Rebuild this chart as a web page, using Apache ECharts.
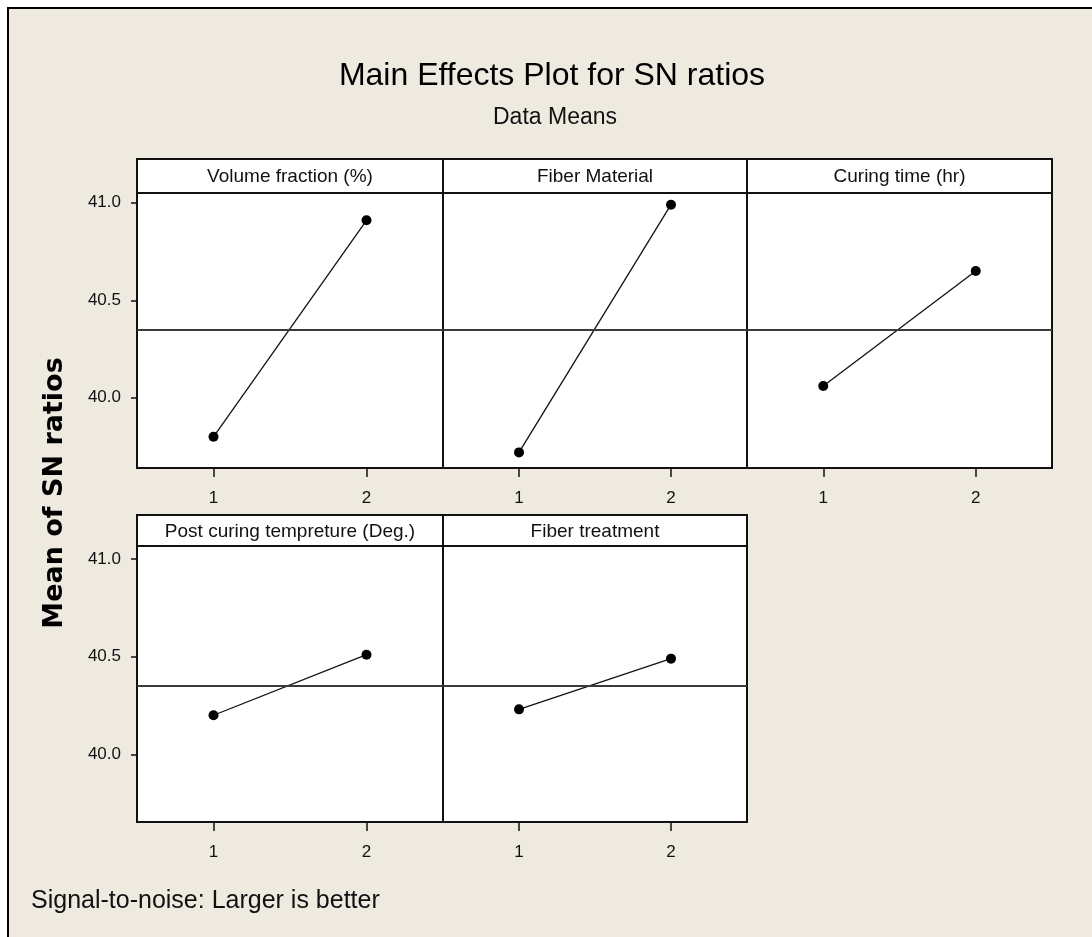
<!DOCTYPE html>
<html>
<head>
<meta charset="utf-8">
<title>Main Effects Plot for SN ratios</title>
<script src="https://cdn.jsdelivr.net/npm/echarts@6/dist/echarts.min.js"></script>
<style>
  html, body { margin: 0; padding: 0; background: #ffffff; }
  #chart { width: 1092px; height: 937px; }
</style>
</head>
<body>
<div id="chart"></div>
<script>
// ---- data: mean S/N ratio at each factor level ----
const levels = ['1', '2'];
const factorNames = [
  'Volume fraction (%)',
  'Fiber Material',
  'Curing time (hr)',
  'Post curing tempreture (Deg.)',
  'Fiber treatment'
];
const volumeFraction = [39.80, 40.91];
const fiberMaterial = [39.72, 40.99];
const curingTime = [40.06, 40.65];
const postCuringTemp = [40.20, 40.51];
const fiberTreatment = [40.23, 40.49];
const overallMean = 40.35;
const yTickValues = [40.0, 40.5, 41.0];

const factorValues = [volumeFraction, fiberMaterial, curingTime, postCuringTemp, fiberTreatment];

// ---- layout of the 3 + 2 panel matrix ----
const colLeft = [137, 443, 747];
const colWidth = [306, 304, 305];
const rowTop = [193, 546];
const rowHeight = [275, 276];
const headerTop = [159, 515];
const rowYRange = [[39.64, 41.05], [39.653, 41.067]];
const panelCell = [[0, 0], [0, 1], [0, 2], [1, 0], [1, 1]]; // [row, col]

const BG = '#EEEAE0';
const INK = '#111111';
const FONT = '"Liberation Sans", Arial, sans-serif';

const grids = [], xAxes = [], yAxes = [], series = [], graphics = [];

// white margin and black frame along the top and left edges
graphics.push(
  { type: 'rect', shape: { x: 0, y: 0, width: 1092, height: 7 }, style: { fill: '#ffffff' }, silent: true },
  { type: 'rect', shape: { x: 0, y: 0, width: 7, height: 937 }, style: { fill: '#ffffff' }, silent: true },
  { type: 'line', shape: { x1: 7, y1: 8, x2: 1092, y2: 8 }, style: { stroke: '#000', lineWidth: 2 }, silent: true },
  { type: 'line', shape: { x1: 8, y1: 7, x2: 8, y2: 937 }, style: { stroke: '#000', lineWidth: 2 }, silent: true }
);

factorValues.forEach((values, i) => {
  const [r, c] = panelCell[i];
  const isLeft = c === 0;
  grids.push({
    left: colLeft[c], top: rowTop[r], width: colWidth[c], height: rowHeight[r],
    show: true, backgroundColor: '#ffffff', borderColor: INK, borderWidth: 2,
    containLabel: false
  });
  xAxes.push({
    gridIndex: i, type: 'category', data: levels, boundaryGap: true,
    axisLine: { show: true, lineStyle: { color: INK, width: 2 } },
    axisTick: { show: true, alignWithLabel: true, length: 9, lineStyle: { color: INK, width: 1.5 } },
    axisLabel: { show: true, margin: 22, fontSize: 17, color: INK, fontFamily: FONT },
    splitLine: { show: false }
  });
  yAxes.push({
    gridIndex: i, type: 'value', min: rowYRange[r][0], max: rowYRange[r][1],
    axisLine: { show: true, lineStyle: { color: INK, width: 2 } },
    axisTick: { show: isLeft, length: 6, customValues: yTickValues, lineStyle: { color: INK, width: 1.5 } },
    axisLabel: {
      show: isLeft, customValues: yTickValues, margin: 16, fontSize: 17, color: INK, fontFamily: FONT,
      formatter: v => Number(v).toFixed(1)
    },
    splitLine: { show: false }
  });
  series.push({
    type: 'line', xAxisIndex: i, yAxisIndex: i, data: values,
    symbol: 'circle', symbolSize: 10, showSymbol: true,
    itemStyle: { color: '#000' },
    lineStyle: { color: '#111', width: 1.3 },
    animation: false, silent: true,
    markLine: {
      silent: true, symbol: 'none', animation: false,
      label: { show: false },
      lineStyle: { color: '#3a3a3a', width: 2, type: 'solid' },
      data: [{ yAxis: overallMean }]
    }
  });
  // panel header strip with the factor name
  graphics.push({
    type: 'rect',
    shape: { x: colLeft[c], y: headerTop[r], width: colWidth[c], height: rowTop[r] - headerTop[r] },
    style: { fill: '#ffffff', stroke: INK, lineWidth: 2 }, silent: true
  });
  graphics.push({
    type: 'text',
    x: colLeft[c] + colWidth[c] / 2, y: (headerTop[r] + rowTop[r]) / 2 + 1,
    style: { text: factorNames[i], font: '19px ' + FONT, fill: INK, align: 'center', verticalAlign: 'middle' },
    silent: true
  });
});

// titles and notes
graphics.push(
  { type: 'text', x: 552, y: 76,
    style: { text: 'Main Effects Plot for SN ratios', font: '32px ' + FONT, fill: '#000', align: 'center', verticalAlign: 'middle' }, silent: true },
  { type: 'text', x: 555, y: 118,
    style: { text: 'Data Means', font: '23px ' + FONT, fill: '#111', align: 'center', verticalAlign: 'middle' }, silent: true },
  { type: 'text', x: 55, y: 493, rotation: Math.PI / 2,
    style: { text: 'Mean of SN ratios', font: 'bold 27px "DejaVu Sans", Verdana, sans-serif', fill: '#000', align: 'center', verticalAlign: 'middle' }, silent: true },
  { type: 'text', x: 31, y: 901,
    style: { text: 'Signal-to-noise: Larger is better', font: '25px ' + FONT, fill: '#111', align: 'left', verticalAlign: 'middle' }, silent: true }
);

const chart = echarts.init(document.getElementById('chart'), null, { renderer: 'canvas' });
chart.setOption({
  backgroundColor: BG,
  animation: false,
  grid: grids,
  xAxis: xAxes,
  yAxis: yAxes,
  series: series,
  graphic: { elements: graphics }
});
</script>
</body>
</html>
